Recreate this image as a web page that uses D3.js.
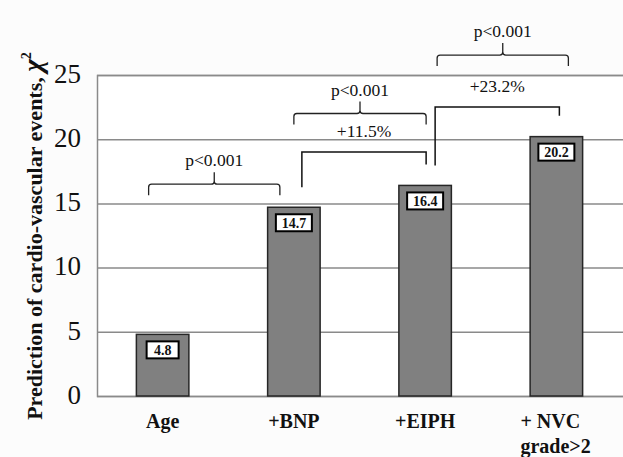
<!DOCTYPE html>
<html>
<head>
<meta charset="utf-8">
<script src="https://cdn.jsdelivr.net/npm/d3@7"></script>
<style>
  html, body { margin: 0; padding: 0; background: #fcfcfc; }
  svg { display: block; }
  text { font-family: "Liberation Serif", "Times New Roman", serif; fill: #111; }
</style>
</head>
<body>
<svg id="chart" width="623" height="457"></svg>
<script>
// ---- data ----
const categories = ["Age", "+BNP", "+EIPH", "+ NVC grade>2"];
const categoryLines = [["Age"], ["+BNP"], ["+EIPH"], ["+ NVC", "grade>2"]];
const chiValues = [4.8, 14.7, 16.4, 20.2];
const valueLabels = ["4.8", "14.7", "16.4", "20.2"];
const yTicks = [0, 5, 10, 15, 20, 25];
const yTitle = "Prediction of cardio-vascular events,\u00A0";
// comparisons (p-value braces)
const braceFrom = ["Age", "+BNP", "+EIPH"];
const braceTo = ["+BNP", "+EIPH", "+ NVC grade>2"];
const braceLabels = ["p<0.001", "p<0.001", "p<0.001"];
// increments (square brackets)
const stepFrom = ["+BNP", "+EIPH"];
const stepTo = ["+EIPH", "+ NVC grade>2"];
const stepLabels = ["+11.5%", "+23.2%"];

// ---- layout ----
const SERIF = '"Liberation Serif", "Times New Roman", serif';
const plot = { left: 97, right: 622, top: 75, bottom: 396 };
const svg = d3.select("#chart");

const x = d3.scaleBand().domain(categories).range([plot.left, plot.right])
  .paddingInner(0.6).paddingOuter(0.3);
const y = d3.scaleLinear().domain([0, 25]).range([plot.bottom, plot.top]);
const cx = c => x(c) + x.bandwidth() / 2;

// plot background
svg.append("rect").attr("x", plot.left).attr("y", plot.top)
  .attr("width", plot.right - plot.left + 1).attr("height", plot.bottom - plot.top)
  .attr("fill", "#fff");

// gridlines via axis
const yAxis = d3.axisLeft(y).tickValues(yTicks).tickSize(-(plot.right - plot.left + 1)).tickPadding(16);
const gy = svg.append("g").attr("transform", `translate(${plot.left},0)`).call(yAxis);
gy.attr("font-family", null);
gy.select(".domain").attr("stroke", "#8a8a8a").attr("stroke-width", 1.5);
gy.selectAll(".tick line").attr("stroke", "#8a8a8a").attr("stroke-width", 1.5);
gy.selectAll(".tick text").style("font-family", SERIF).style("font-size", "27px")
  .attr("fill", "#111").attr("dy", "0.27em");

// bars
svg.append("g").selectAll("rect").data(chiValues).join("rect")
  .attr("x", (d, i) => x(categories[i]))
  .attr("y", d => y(d))
  .attr("width", x.bandwidth())
  .attr("height", d => y(0) - y(d))
  .attr("fill", "#808080")
  .attr("stroke", "#262626")
  .attr("stroke-width", 1.5);

// value label boxes
const lab = svg.append("g").selectAll("g").data(chiValues).join("g")
  .attr("transform", (d, i) => `translate(${cx(categories[i])},${y(d) + 7})`);
lab.append("rect")
  .attr("x", (d, i) => -16 - (valueLabels[i].length > 3 ? 2 : 0))
  .attr("width", (d, i) => 32 + (valueLabels[i].length > 3 ? 4 : 0))
  .attr("height", 17)
  .attr("fill", "#fff").attr("stroke", "#000").attr("stroke-width", 2);
lab.append("text").attr("text-anchor", "middle").attr("y", 13.5)
  .style("font-family", SERIF).style("font-size", "14px").style("font-weight", "bold")
  .text((d, i) => valueLabels[i]);

// x category labels
const xl = svg.append("g").selectAll("text").data(categories).join("text")
  .attr("text-anchor", (d, i) => categoryLines[i].length > 1 ? "start" : "middle")
  .style("font-family", SERIF).style("font-size", "20px").style("font-weight", "bold")
  .attr("transform", (d, i) => `translate(${categoryLines[i].length > 1 ? cx(d) - 36 : cx(d)},428)`);
xl.selectAll("tspan").data((d, i) => categoryLines[i]).join("tspan")
  .attr("x", 0).attr("y", (d, j) => j * 25).text(d => d);

// y title
const yt = svg.append("text")
  .attr("transform", `translate(42,236) rotate(-90)`)
  .attr("text-anchor", "middle")
  .style("font-family", SERIF).style("font-size", "22px").style("font-weight", "bold");
yt.append("tspan").text(yTitle);
yt.append("tspan").style("font-size", "27px").style("font-style", "italic").text("χ");
yt.append("tspan").style("font-size", "14px").attr("dy", -11).text("2");

// braces
const braceLevel = [16.5, 22.0, 26.55];
const braceOffL = [-14, 0, 12];
const braceOffR = [-14, 1, 12];
function bracePath(x1, x2, yy, drop, tip) {
  const m = (x1 + x2) / 2, r = 3;
  return `M${x1},${yy + drop} L${x1},${yy + r} Q${x1},${yy} ${x1 + r},${yy}` +
    ` L${m - r},${yy} Q${m},${yy} ${m},${yy - r} L${m},${yy - tip}` +
    ` M${m},${yy - r} Q${m},${yy} ${m + r},${yy} L${x2 - r},${yy} Q${x2},${yy} ${x2},${yy + r} L${x2},${yy + drop}`;
}
braceFrom.forEach((f, i) => {
  const x1 = cx(f) + braceOffL[i], x2 = cx(braceTo[i]) + braceOffR[i];
  const yy = y(braceLevel[i]);
  svg.append("path").attr("d", bracePath(x1, x2, yy, 11, 12))
    .attr("fill", "none").attr("stroke", "#222").attr("stroke-width", 1.3);
  svg.append("text").attr("x", (x1 + x2) / 2).attr("y", yy - 18)
    .attr("text-anchor", "middle")
    .style("font-family", SERIF).style("font-size", "17.5px").text(braceLabels[i]);
});

// square step brackets
const stepLevel = [19.0, 22.5];
const stepOffL = [8, 10];
const stepOffR = [1, 3];
stepFrom.forEach((f, i) => {
  const x1 = cx(f) + stepOffL[i], x2 = cx(stepTo[i]) + stepOffR[i];
  const yy = y(stepLevel[i]);
  const v1 = chiValues[categories.indexOf(f)], v2 = chiValues[categories.indexOf(stepTo[i])];
  svg.append("path")
    .attr("d", `M${x1},${y(v1) - 20} L${x1},${yy} L${x2},${yy} L${x2},${y(v2) - 21}`)
    .attr("fill", "none").attr("stroke", "#111").attr("stroke-width", 1.5);
  svg.append("text").attr("x", (x1 + x2) / 2).attr("y", yy - 15)
    .attr("text-anchor", "middle")
    .style("font-family", SERIF).style("font-size", "17.5px").text(stepLabels[i]);
});
</script>
</body>
</html>
